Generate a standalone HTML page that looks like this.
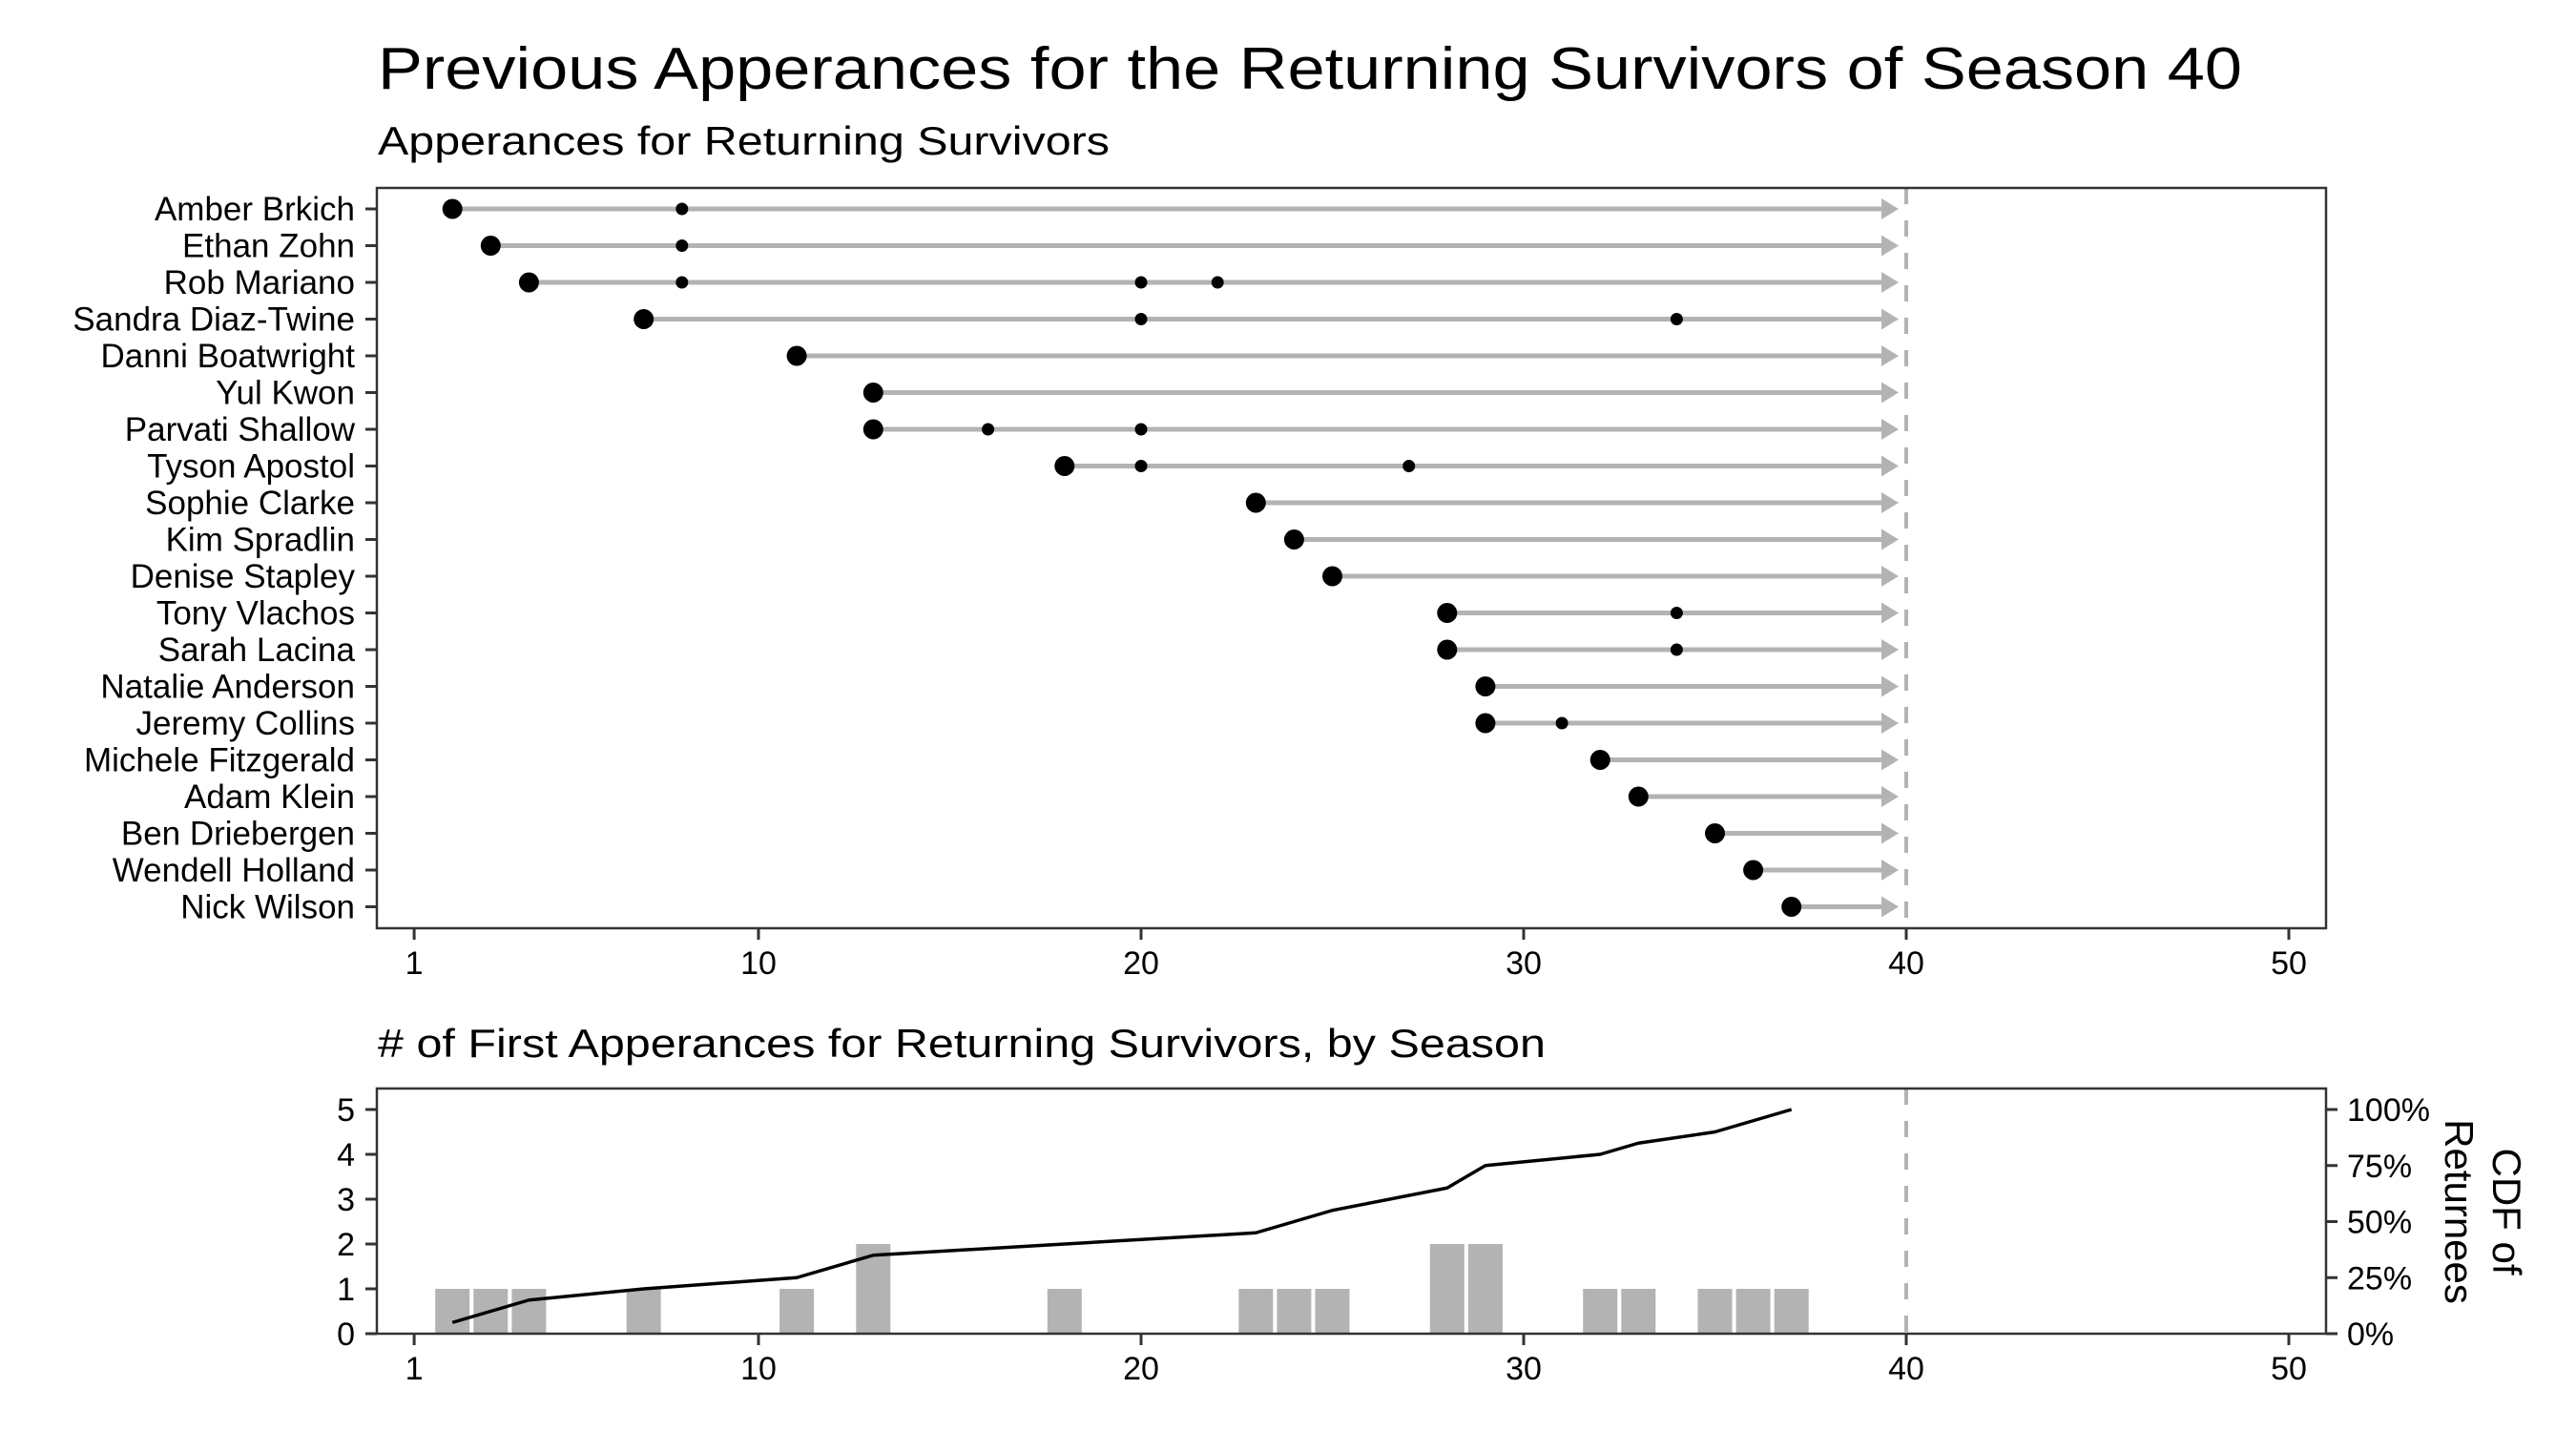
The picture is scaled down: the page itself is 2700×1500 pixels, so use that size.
<!DOCTYPE html>
<html><head><meta charset="utf-8"><style>html,body{margin:0;padding:0;background:#fff}svg{display:block}</style></head>
<body>
<svg id="s" xmlns="http://www.w3.org/2000/svg" width="2700" height="1500" viewBox="0 0 2700 1500" font-family="Liberation Sans, sans-serif">
<rect width="2700" height="1500" fill="#fff"/>
<text x="396" y="93" font-size="62" textLength="1954" lengthAdjust="spacingAndGlyphs">Previous Apperances for the Returning Survivors of Season 40</text>
<text x="396" y="162" font-size="42" textLength="767" lengthAdjust="spacingAndGlyphs">Apperances for Returning Survivors</text>
<text x="396" y="1108" font-size="42" textLength="1224" lengthAdjust="spacingAndGlyphs"># of First Apperances for Returning Survivors, by Season</text>
<g id="top"></g>
<g id="bot"></g>
</svg>
<script>
var NS="http://www.w3.org/2000/svg";
function el(p,t,a,txt){var e=document.createElementNS(NS,t);for(var k in a)e.setAttribute(k,a[k]);if(txt!==undefined)e.textContent=txt;p.appendChild(e);return e;}
function X(s){return 795+(s-10)*40.1;}
var T=document.getElementById('top'),B=document.getElementById('bot');
var data=[["Amber Brkich",2,[8]],["Ethan Zohn",3,[8]],["Rob Mariano",4,[8,20,22]],["Sandra Diaz-Twine",7,[20,34]],["Danni Boatwright",11,[]],["Yul Kwon",13,[]],["Parvati Shallow",13,[16,20]],["Tyson Apostol",18,[20,27]],["Sophie Clarke",23,[]],["Kim Spradlin",24,[]],["Denise Stapley",25,[]],["Tony Vlachos",28,[34]],["Sarah Lacina",28,[34]],["Natalie Anderson",29,[]],["Jeremy Collins",29,[31]],["Michele Fitzgerald",32,[]],["Adam Klein",33,[]],["Ben Driebergen",35,[]],["Wendell Holland",36,[]],["Nick Wilson",37,[]]];
var L=395,R=2438;
el(T,'line',{x1:1998,y1:197,x2:1998,y2:973,stroke:'#b3b3b3','stroke-width':4,'stroke-dasharray':'17 17'});
data.forEach(function(d,i){var y=219+i*38.5;
 el(T,'line',{x1:X(d[1]),y1:y,x2:1975,y2:y,stroke:'#b3b3b3','stroke-width':5});
 el(T,'polygon',{points:(1972)+','+(y-11)+' 1990,'+y+' 1972,'+(y+11),fill:'#b3b3b3'});
 el(T,'circle',{cx:X(d[1]),cy:y,r:10.5,fill:'#000'});
 d[2].forEach(function(s){el(T,'circle',{cx:X(s),cy:y,r:6.5,fill:'#000'});});
 el(T,'line',{x1:383,y1:y,x2:395,y2:y,stroke:'#333','stroke-width':3});
 el(T,'text',{x:372,y:y+12,'font-size':35,'text-anchor':'end'},d[0]);
});
el(T,'rect',{x:L,y:197,width:R-L,height:776,fill:'none',stroke:'#333','stroke-width':2.5});
[1,10,20,30,40,50].forEach(function(s){el(T,'line',{x1:X(s),y1:973,x2:X(s),y2:985,stroke:'#333','stroke-width':3});el(T,'text',{x:X(s),y:1021,'font-size':34,'text-anchor':'middle'},s);});
var cnt={2:1,3:1,4:1,7:1,11:1,13:2,18:1,23:1,24:1,25:1,28:2,29:2,32:1,33:1,35:1,36:1,37:1};
el(B,'line',{x1:1998,y1:1141,x2:1998,y2:1398,stroke:'#b3b3b3','stroke-width':4,'stroke-dasharray':'17 17'});
var cum=0,pts=[];
for(var s=1;s<=40;s++){if(cnt[s]){var h=cnt[s]*47;el(B,'rect',{x:X(s)-18,y:1398-h,width:36,height:h,fill:'#b3b3b3'});cum+=cnt[s];pts.push(X(s)+','+(1398-235*cum/20));}}
el(B,'polyline',{points:pts.join(' '),fill:'none',stroke:'#000','stroke-width':3.5,'stroke-linejoin':'round'});
el(B,'rect',{x:L,y:1141,width:R-L,height:257,fill:'none',stroke:'#333','stroke-width':2.5});
for(var k=0;k<=5;k++){var y=1398-47*k;el(B,'line',{x1:383,y1:y,x2:395,y2:y,stroke:'#333','stroke-width':3});el(B,'text',{x:372,y:y+12,'font-size':34,'text-anchor':'end'},k);}
['0%','25%','50%','75%','100%'].forEach(function(t,k){var y=1398-58.75*k;el(B,'line',{x1:2438,y1:y,x2:2450,y2:y,stroke:'#333','stroke-width':3});el(B,'text',{x:2460,y:y+12,'font-size':34},t);});
[1,10,20,30,40,50].forEach(function(s){el(B,'line',{x1:X(s),y1:1398,x2:X(s),y2:1410,stroke:'#333','stroke-width':3});el(B,'text',{x:X(s),y:1446,'font-size':34,'text-anchor':'middle'},s);});
el(B,'text',{x:0,y:0,'font-size':42,'text-anchor':'middle',transform:'translate(2613,1270) rotate(90)'},'CDF of');
el(B,'text',{x:0,y:0,'font-size':42,'text-anchor':'middle',transform:'translate(2563,1270) rotate(90)'},'Returnees');
</script>
</body></html>
